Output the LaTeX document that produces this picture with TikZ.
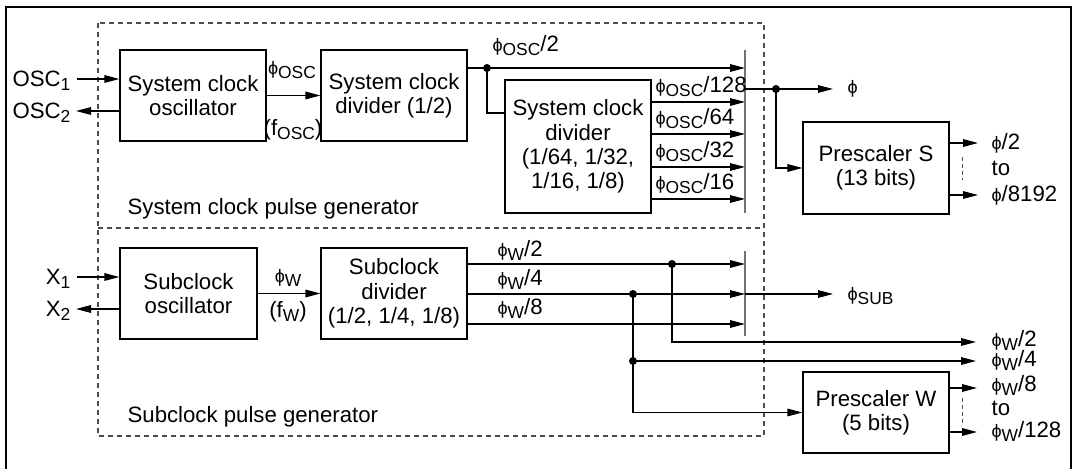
\documentclass[tikz,border=0pt]{standalone}
\usepackage{fontspec}
\setmainfont{Liberation Sans}
\usetikzlibrary{arrows.meta}
\newcommand\lsub[1]{\raisebox{-1.8pt}{\fontsize{8.7}{8.7}\selectfont #1}}
\newcommand\ph{{\fontsize{9}{9}\selectfont ϕ}}
\begin{document}
\begin{tikzpicture}[x=0.5pt,y=-0.5pt,
  font=\fontsize{11.1}{12.2}\selectfont,
  line width=0.6pt,
  >={Triangle[length=7.5pt,width=3.8pt]},
  blk/.style={draw,line width=0.6pt,inner sep=0pt,align=center,minimum width=73pt},
  lbl/.style={inner sep=0pt},
  dot/.style={circle,fill,inner sep=0pt,minimum size=4pt},
  grp/.style={draw=black!70,dash pattern=on 2.5pt off 2pt,line width=0.55pt},
  barline/.style={draw=black!55,line width=0.8pt},
  hint/.style={draw=black!70,dash pattern=on 2pt off 1.5pt,line width=0.5pt}]
\useasboundingbox (0,0) rectangle (1076,469);
% outer frame
\draw[line width=1pt] (6,480) -- (6,7) -- (1071,7) -- (1071,480);
% dashed groups
\draw[grp] (98,23) rectangle (764,436);
\draw[grp] (98,228) -- (764,228);
% blocks
\node[blk,minimum height=45.5pt] (sco) at (193,95.5) {System clock\\oscillator};
\node[blk,minimum height=45.5pt] (scd) at (394,95.5) {System clock\\divider (1/2)};
\node[blk,minimum height=66.5pt] (scd2) at (578,146.5) {System clock\\divider\\(1/64, 1/32,\\1/16, 1/8)};
\node[blk,minimum height=46pt] (pss) at (876,168) {Prescaler S\\(13 bits)};
\node[blk,minimum width=68.5pt,minimum height=45.5pt] (subo) at (188.5,293.5) {Subclock\\oscillator};
\node[blk,minimum height=45.5pt] (subd) at (394,293.5) {Subclock\\divider\\(1/2, 1/4, 1/8)};
\node[blk,minimum height=40.5pt] (psw) at (876,412.5) {Prescaler W\\(5 bits)};
\node[lbl,anchor=base west] (scpg) at (127,215) {System clock pulse generator};
\node[lbl,anchor=base west] (subpg) at (127,423) {Subclock pulse generator};
% bars
\coordinate (b1t) at (745,50); \coordinate (b1b) at (745,213);
\coordinate (b2t) at (745,251); \coordinate (b2b) at (745,336);
\draw[barline] (b1t) -- (b1b);
\draw[barline] (b2t) -- (b2b);
% inputs
\coordinate (o1) at (77,79); \coordinate (o2) at (76,111);
\coordinate (x1) at (77,277); \coordinate (x2) at (76,309);
\node[lbl,anchor=base east] (osc1l) at (71,87) {OSC\lsub{1}};
\node[lbl,anchor=base east] (osc2l) at (71,119) {OSC\lsub{2}};
\node[lbl,anchor=base east] (x1l) at (71,285) {X\lsub{1}};
\node[lbl,anchor=base east] (x2l) at (71,317) {X\lsub{2}};
\draw[->] (o1) -- (o1 -| sco.west);
\draw[->] (o2 -| sco.west) -- (o2);
\draw[->] (x1) -- (x1 -| subo.west);
\draw[->] (x2 -| subo.west) -- (x2);
% oscillator -> divider
\draw[->] (sco.east) -- (scd.west);
\node[lbl,anchor=base] (phosc) at (292,75) {\ph\lsub{OSC}};
\node[lbl,anchor=base] (fosc) at (293,136) {(f\lsub{OSC})};
\draw[->] (subo.east) -- (subd.west);
\node[lbl,anchor=base] (phw) at (288,283) {\ph\lsub{W}};
\node[lbl,anchor=base] (fw) at (288,318) {(f\lsub{W})};
% system clock divider outputs
\coordinate (j1) at (487,68);
\draw (scd.east |- j1) -- (j1);
\draw[->] (j1) -- (j1 -| b1t);
\draw (j1) |- (scd2.west |- 0,113);
\node[dot] (j1d) at (j1) {};
\node[lbl,anchor=base west] (l2) at (492,52) {\ph\lsub{OSC}/2};
\foreach \yy/\tt in {102/128,134/64,167/32,199/16}{
  \draw[->] (scd2.east |- 0,\yy) -- (b1t |- 0,\yy);
  \node[lbl,anchor=base west] (l\tt) at (655,\yy-9) {\ph\lsub{OSC}/\tt};
}
% phi output
\coordinate (j2) at (776,89);
\coordinate (phie) at (833,89);
\draw (b1t |- j2) -- (j2);
\draw[->] (j2) -- (phie);
\node[dot] (j2d) at (j2) {};
\node[lbl,anchor=west] (phil) at (847,89) {\ph};
\draw[->] (j2) |- (pss.west);
% prescaler S outputs
\coordinate (ps1) at (978,143); \coordinate (ps2) at (978,195);
\draw[->] (pss.east |- ps1) -- (ps1);
\draw[->] (pss.east |- ps2) -- (ps2);
\draw[hint] (962,157) -- (962,180);
\node[lbl,anchor=base west] (psl1) at (991,150) {\ph/2};
\node[lbl,anchor=base west] (psl2) at (991,176) {to};
\node[lbl,anchor=base west] (psl3) at (991,202) {\ph/8192};
% subclock divider outputs
\foreach \yy/\tt/\dd in {264/2/7,294/4/8,324/8/9}{
  \draw[->] (subd.east |- 0,\yy) -- (b2t |- 0,\yy);
  \node[lbl,anchor=base west] (w\tt) at (497,\yy-\dd) {\ph\lsub{W}/\tt};
}
\coordinate (subout) at (833,294);
\draw[->] (b2t |- subout) -- (subout);
\node[lbl,anchor=west] (subl) at (847,296) {\ph\lsub{SUB}};
% taps
\coordinate (j3) at (672,264);
\coordinate (j4) at (633,294);
\coordinate (j5) at (633,361);
\coordinate (w2e) at (976,342);
\coordinate (w4e) at (976,361);
\draw[->] (j3) |- (w2e);
\draw (j4) -- (j5);
\draw[->] (j5) -- (w4e);
\draw[->] (j5) |- (psw.west);
\node[dot] (j3d) at (j3) {};
\node[dot] (j4d) at (j4) {};
\node[dot] (j5d) at (j5) {};
\node[lbl,anchor=base west] (rw2) at (991,347) {\ph\lsub{W}/2};
\node[lbl,anchor=base west] (rw4) at (991,367) {\ph\lsub{W}/4};
% prescaler W outputs
\coordinate (pw1) at (977,388); \coordinate (pw2) at (977,432);
\draw[->] (psw.east |- pw1) -- (pw1);
\draw[->] (psw.east |- pw2) -- (pw2);
\draw[hint] (962,398) -- (962,425);
\node[lbl,anchor=base west] (pwl1) at (991,392) {\ph\lsub{W}/8};
\node[lbl,anchor=base west] (pwl2) at (991,416) {to};
\node[lbl,anchor=base west] (pwl3) at (991,438) {\ph\lsub{W}/128};
\end{tikzpicture}
\end{document}
